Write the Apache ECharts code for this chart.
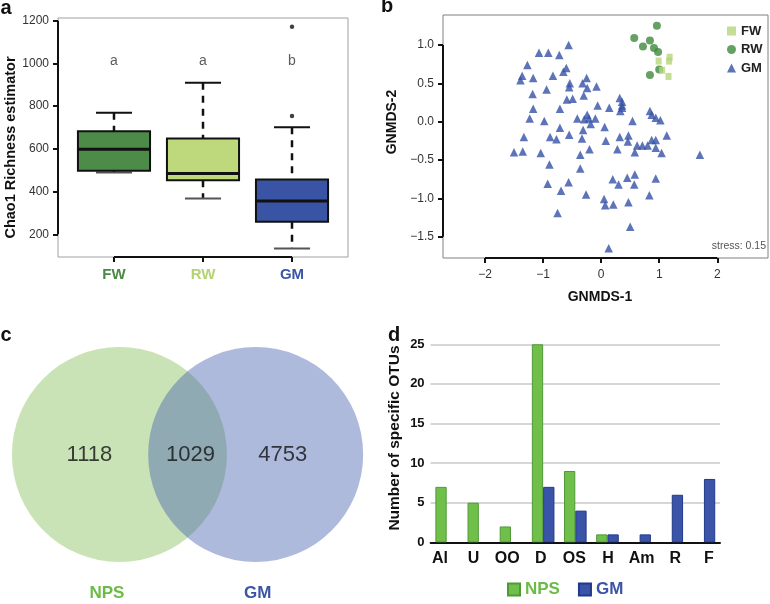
<!DOCTYPE html>
<html><head><meta charset="utf-8">
<script src="https://cdn.jsdelivr.net/npm/echarts@6/dist/echarts.min.js"></script>
<style>html,body{margin:0;padding:0;background:#fff}#c{width:770px;height:604px}</style>
</head><body><div id="c"></div>
<script>
// ---------- Panel a : Chao1 box plots ----------
const boxGroups = ['FW', 'RW', 'GM'];
const boxMin    = [489, 368, 134];
const boxQ1     = [498, 453, 259];
const boxMedian = [598, 485, 356];
const boxQ3     = [682, 649, 456];
const boxMax    = [769, 910, 701];
const boxOutlierGroup = [3, 3];
const boxOutlierValue = [754, 1172];
const sigLetters = ['a', 'a', 'b'];
const sigLevel = 1010;
const richnessTicks = [200, 400, 600, 800, 1000, 1200];

// ---------- Panel b : GNMDS ----------
const fwPoints = [[0.99,0.79],[1.18,0.84],[1.17,0.79],[1.05,0.67],[1.16,0.59]];
const rwPoints = [[0.96,1.25],[0.57,1.09],[0.84,1.06],[0.72,0.98],[0.91,0.96],[0.98,0.91],[0.84,0.61],[1.00,0.68]];
const gmPoints = [[-0.56,1.00],[-1.07,0.90],[-0.91,0.90],[-0.72,0.87],[-1.27,0.74],[-0.60,0.70],[-0.65,0.65],[-1.36,0.60],[-1.39,0.54],[-1.17,0.57],[-0.83,0.60],[-0.54,0.50],[-0.55,0.45],[-0.32,0.50],[-0.25,0.57],[-0.24,0.44],[-0.08,0.46],[-0.94,0.42],[-1.18,0.36],[-0.59,0.29],[-0.49,0.30],[-0.30,0.34],[-0.06,0.21],[-0.71,0.17],[-1.17,0.17],[-1.23,0.04],[-0.98,0.01],[-0.71,-0.08],[-0.41,0.04],[-0.24,0.09],[-0.21,0.04],[-0.18,-0.03],[-0.29,0.03],[-0.10,0.04],[0.06,-0.07],[0.14,0.18],[0.32,0.31],[0.36,0.26],[0.36,0.21],[0.36,0.18],[0.33,0.14],[0.54,0.01],[0.84,0.14],[0.87,0.09],[0.94,0.05],[1.02,0.02],[-0.88,-0.20],[-0.77,-0.23],[-0.55,-0.17],[-0.31,-0.11],[-0.33,-0.22],[-0.36,-0.43],[-0.20,-0.36],[0.08,-0.25],[0.32,-0.20],[0.47,-0.18],[0.46,-0.26],[0.28,-0.36],[0.58,-0.40],[0.62,-0.31],[0.71,-0.31],[0.80,-0.31],[0.87,-0.24],[0.94,-0.24],[1.13,-0.18],[1.04,-0.41],[0.94,-0.34],[1.70,-0.43],[-1.50,-0.40],[-1.35,-0.39],[-1.33,-0.20],[-1.04,-0.41],[-0.89,-0.56],[-0.36,-0.61],[-0.56,-0.79],[-0.92,-0.81],[-0.69,-0.90],[-0.26,-0.95],[-0.75,-1.19],[0.05,-1.01],[0.07,-1.09],[0.21,-1.08],[0.20,-0.75],[0.30,-0.82],[0.45,-0.73],[0.57,-0.82],[0.58,-0.69],[0.47,-1.05],[0.94,-0.74],[0.83,-0.96],[0.50,-1.37],[0.13,-1.65]];
const nmdsXTicks = [-2, -1, 0, 1, 2];
const nmdsYTicks = [-1.5, -1.0, -0.5, 0.0, 0.5, 1.0];
const stressValue = 0.15;

// ---------- Panel c : Venn ----------
const vennSets = ['NPS', 'GM'];
const vennOnlyFirst = 1118;
const vennShared = 1029;
const vennOnlySecond = 4753;

// ---------- Panel d : specific OTUs ----------
const otuCategories = ['Al', 'U', 'OO', 'D', 'OS', 'H', 'Am', 'R', 'F'];
const otuNPS = [7, 5, 2, 25, 9, 1, 0, 0, 0];
const otuGM  = [0, 0, 0, 7, 4, 1, 1, 6, 8];
const otuTicks = 5;

// ---------- styles ----------
const boxFill = ['#4c8b48', '#bed97b', '#3a54a5'];
const groupText = ['#4a8a44', '#b3d374', '#3b55a6'];
const FONT = 'Liberation Sans, Arial, sans-serif';
const aX = [0.371, 3.629], aY = [93.7, 1212.6];
const bX = [-2.723, 2.873], bY = [-1.778, 1.391];
const minus = s => String(s).replace('-', '\u2212');
const hideZero = arr => arr.map(v => (v === 0 ? '-' : v));

function renderBox(params, api) {
  const x = api.value(0);
  const pMin = api.coord([x, api.value(1)]);
  const pQ1 = api.coord([x, api.value(2)]);
  const pMd = api.coord([x, api.value(3)]);
  const pQ3 = api.coord([x, api.value(4)]);
  const pMx = api.coord([x, api.value(5)]);
  const bw = api.size([0.81, 0])[0];
  const cw = bw / 2;
  const cx = pMd[0];
  const dash = {stroke: '#111', lineWidth: 2.5, lineDash: [7, 6]};
  const solid = {stroke: '#111', lineWidth: 2};
  return {type: 'group', children: [
    {type: 'line', shape: {x1: cx, y1: pMx[1], x2: cx, y2: pQ3[1]}, style: dash},
    {type: 'line', shape: {x1: cx, y1: pQ1[1], x2: cx, y2: pMin[1]}, style: dash},
    {type: 'line', shape: {x1: cx - cw / 2, y1: pMx[1], x2: cx + cw / 2, y2: pMx[1]}, style: solid},
    {type: 'line', shape: {x1: cx - cw / 2, y1: pMin[1], x2: cx + cw / 2, y2: pMin[1]}, style: {stroke: '#555', lineWidth: 2}},
    {type: 'rect', shape: {x: cx - bw / 2, y: pQ3[1], width: bw, height: pQ1[1] - pQ3[1]},
      style: {fill: boxFill[params.dataIndex], stroke: '#111', lineWidth: 2}},
    {type: 'line', shape: {x1: cx - bw / 2, y1: pMd[1], x2: cx + bw / 2, y2: pMd[1]}, style: {stroke: '#111', lineWidth: 3}}
  ]};
}

const chart = echarts.init(document.getElementById('c'), null, {renderer: 'canvas'});

const axisLineSeries = (xi, yi, pts) => ({
  type: 'line', xAxisIndex: xi, yAxisIndex: yi, data: pts, symbol: 'none', silent: true,
  lineStyle: {color: '#111', width: 2}, z: 5, clip: false
});

const richGroups = {};
boxGroups.forEach((g, i) => { richGroups['g' + i] = {color: groupText[i], fontWeight: 'bold', fontSize: 15, fontFamily: FONT}; });

const option = {
  animation: false,
  backgroundColor: '#fff',
  textStyle: {fontFamily: FONT},
  grid: [
    {left: 58, top: 18, width: 290, height: 239, show: true, borderColor: '#a0a0a0', borderWidth: 1, outerBoundsMode: 'none'},
    {left: 443, top: 15, width: 325, height: 243, show: true, borderColor: '#808080', borderWidth: 1, outerBoundsMode: 'none'},
    {left: 0, top: 354.5, width: 380, height: 200, outerBoundsMode: 'none'},
    {left: 430.6, top: 344.3, width: 289.4, height: 198, outerBoundsMode: 'none'},
    {left: 423.2, top: 344.3, width: 302.4, height: 198, outerBoundsMode: 'none'}
  ],
  xAxis: [
    {gridIndex: 0, type: 'value', min: aX[0], max: aX[1],
      axisLine: {show: false, onZero: false}, splitLine: {show: false},
      axisTick: {show: true, customValues: [1, 2, 3], length: 5, lineStyle: {color: '#111', width: 2}},
      axisLabel: {customValues: [1, 2, 3], margin: 10, formatter: v => '{g' + (v - 1) + '|' + boxGroups[v - 1] + '}', rich: richGroups}},
    {gridIndex: 1, type: 'value', min: bX[0], max: bX[1],
      axisLine: {show: false, onZero: false}, splitLine: {show: false},
      axisTick: {show: true, customValues: nmdsXTicks, length: 5, lineStyle: {color: '#111', width: 2}},
      axisLabel: {customValues: nmdsXTicks, margin: 11, fontSize: 12, color: '#333', formatter: v => minus(v)}},
    {gridIndex: 2, type: 'value', min: -0.877, max: 1.913,
      axisLine: {show: false, onZero: false}, splitLine: {show: false}, axisTick: {show: false},
      axisLabel: {customValues: [0, 1], margin: 30,
        formatter: v => v === 0 ? '{n|' + vennSets[0] + '}' : '{m|' + vennSets[1] + '}',
        rich: {n: {color: '#6cbb47', fontWeight: 'bold', fontSize: 17, padding: [0, 25, 0, 0]},
               m: {color: '#3b55a6', fontWeight: 'bold', fontSize: 17, padding: [0, 0, 0, 4]}}}},
    {gridIndex: 3, type: 'category', data: otuCategories,
      axisLine: {show: true, onZero: false, lineStyle: {color: '#111', width: 2}}, axisTick: {show: false},
      axisLabel: {show: false}, splitLine: {show: false}},
    {gridIndex: 4, type: 'category', data: otuCategories,
      axisLine: {show: false, onZero: false}, axisTick: {show: false}, splitLine: {show: false},
      axisLabel: {interval: 0, margin: 8, fontSize: 16, fontWeight: 'bold', color: '#111'}}
  ],
  yAxis: [
    {gridIndex: 0, type: 'value', min: aY[0], max: aY[1],
      axisLine: {show: false, onZero: false}, splitLine: {show: false},
      axisTick: {show: true, customValues: richnessTicks, length: 5, lineStyle: {color: '#111', width: 2}},
      axisLabel: {customValues: richnessTicks, margin: 9, fontSize: 12, color: '#333', formatter: v => String(v)}},
    {gridIndex: 1, type: 'value', min: bY[0], max: bY[1],
      axisLine: {show: false, onZero: false}, splitLine: {show: false},
      axisTick: {show: true, customValues: nmdsYTicks, length: 5, lineStyle: {color: '#111', width: 2}},
      axisLabel: {customValues: nmdsYTicks, margin: 9, fontSize: 12, color: '#333', formatter: v => minus(v.toFixed(1))}},
    {gridIndex: 2, type: 'value', min: -1, max: 1, show: false, axisLine: {onZero: false}},
    {gridIndex: 3, type: 'value', min: 0, max: 25, interval: otuTicks,
      axisLine: {show: false, onZero: false}, axisTick: {show: false},
      splitLine: {show: true, lineStyle: {color: '#c8c8c8', width: 1.5}},
      axisLabel: {margin: 6, fontSize: 13, fontWeight: 'bold', color: '#111'}},
    {gridIndex: 4, type: 'value', min: 0, max: 25, show: false, axisLine: {onZero: false}}
  ],
  legend: [
    {data: ['FW', 'RW', 'GM'], orient: 'vertical', left: 727, top: 24.5, padding: 0, itemWidth: 9, itemHeight: 9, itemGap: 5.5,
      textStyle: {fontSize: 13, fontWeight: 'bold', color: '#222'}, selectedMode: false},
    {data: [{name: 'NPS', textStyle: {color: '#6cbb47'}}, {name: 'GM OTUs', textStyle: {color: '#3b55a6'}}],
      left: 507, top: 581, padding: 0, itemWidth: 12, itemHeight: 12, itemGap: 18, icon: 'rect',
      formatter: n => n.split(' ')[0],
      textStyle: {fontSize: 17, fontWeight: 'bold'}, selectedMode: false}
  ],
  series: [
    // panel a
    {type: 'custom', name: 'Chao1', xAxisIndex: 0, yAxisIndex: 0, renderItem: renderBox, clip: false,
      encode: {x: 0, y: [1, 2, 3, 4, 5]},
      data: boxGroups.map((g, i) => [i + 1, boxMin[i], boxQ1[i], boxMedian[i], boxQ3[i], boxMax[i]])},
    {type: 'scatter', name: 'outliers', xAxisIndex: 0, yAxisIndex: 0, symbolSize: 4.5,
      itemStyle: {color: '#111'}, data: boxOutlierGroup.map((g, i) => [g, boxOutlierValue[i]])},
    {type: 'scatter', name: 'letters', xAxisIndex: 0, yAxisIndex: 0, symbolSize: 1, itemStyle: {color: 'rgba(0,0,0,0)'},
      label: {show: true, position: 'inside', formatter: p => sigLetters[p.dataIndex], fontSize: 14, color: '#333'},
      data: boxGroups.map((g, i) => [i + 1, sigLevel])},
    axisLineSeries(0, 0, [[aX[0], richnessTicks[0]], [aX[0], richnessTicks[richnessTicks.length - 1]]]),
    axisLineSeries(0, 0, [[1, aY[0]], [boxGroups.length, aY[0]]]),
    // panel b
    {type: 'scatter', name: 'GM', xAxisIndex: 1, yAxisIndex: 1, symbol: 'triangle', symbolSize: 8.5,
      itemStyle: {color: '#3651a6'}, data: gmPoints},
    {type: 'scatter', name: 'RW', xAxisIndex: 1, yAxisIndex: 1, symbol: 'circle', symbolSize: 8,
      itemStyle: {color: '#3f8a3d'}, data: rwPoints},
    {type: 'scatter', name: 'FW', xAxisIndex: 1, yAxisIndex: 1, symbol: 'rect', symbolSize: [6, 7],
      itemStyle: {color: '#b5d67a'}, data: fwPoints},
    axisLineSeries(1, 1, [[bX[0], nmdsYTicks[0]], [bX[0], nmdsYTicks[nmdsYTicks.length - 1]]]),
    axisLineSeries(1, 1, [[nmdsXTicks[0], bY[0]], [nmdsXTicks[nmdsXTicks.length - 1], bY[0]]]),
    // panel c
    {type: 'scatter', name: 'venn', xAxisIndex: 2, yAxisIndex: 2, symbol: 'circle', symbolSize: 215, silent: true,
      label: {show: true, position: 'inside', fontSize: 22, color: '#111'},
      data: [
        {value: [0, 0], itemStyle: {color: '#bcdca4'}, label: {formatter: String(vennOnlyFirst), offset: [-30, 0]}},
        {value: [1, 0], itemStyle: {color: 'rgba(68,96,174,0.54)'}, label: {formatter: String(vennOnlySecond), offset: [27, 0]}},
        {value: [0.5, 0], symbolSize: 1, itemStyle: {color: 'rgba(0,0,0,0)'}, label: {formatter: String(vennShared), offset: [3, 0]}}
      ]},
    // panel d
    {type: 'bar', name: 'NPS', xAxisIndex: 3, yAxisIndex: 3, data: hideZero(otuNPS), barWidth: 11.3, barGap: '0%',
      itemStyle: {color: '#71bf4b', borderColor: '#4f9a36', borderWidth: 1}},
    {type: 'bar', name: 'GM OTUs', xAxisIndex: 3, yAxisIndex: 3, data: hideZero(otuGM), barWidth: 11.3, barGap: '0%',
      itemStyle: {color: '#3a55a8', borderColor: '#22388a', borderWidth: 1}}
  ],
  graphic: [
    {type: 'text', x: 6, y: 8, style: {text: 'a', font: 'bold 20px ' + FONT, textAlign: 'center', textVerticalAlign: 'middle', fill: '#111'}},
    {type: 'text', x: 387, y: 6, style: {text: 'b', font: 'bold 20px ' + FONT, textAlign: 'center', textVerticalAlign: 'middle', fill: '#111'}},
    {type: 'text', x: 6, y: 335, style: {text: 'c', font: 'bold 20px ' + FONT, textAlign: 'center', textVerticalAlign: 'middle', fill: '#111'}},
    {type: 'text', x: 394, y: 335, style: {text: 'd', font: 'bold 20px ' + FONT, textAlign: 'center', textVerticalAlign: 'middle', fill: '#111'}},
    {type: 'text', x: 11, y: 147.5, rotation: Math.PI / 2, style: {text: 'Chao1 Richness estimator', font: 'bold 14.5px ' + FONT, textAlign: 'center', textVerticalAlign: 'middle', fill: '#111'}},
    {type: 'text', x: 392, y: 122, rotation: Math.PI / 2, style: {text: 'GNMDS-2', font: 'bold 14px ' + FONT, textAlign: 'center', textVerticalAlign: 'middle', fill: '#111'}},
    {type: 'text', x: 600, y: 297, style: {text: 'GNMDS-1', font: 'bold 14px ' + FONT, textAlign: 'center', textVerticalAlign: 'middle', fill: '#111'}},
    {type: 'text', x: 766, y: 246, style: {text: 'stress: ' + stressValue.toFixed(2), font: '10.5px ' + FONT, textAlign: 'right', textVerticalAlign: 'middle', fill: '#555'}},
    {type: 'text', x: 395, y: 438, rotation: Math.PI / 2, style: {text: 'Number of specific OTUs', font: 'bold 15.5px ' + FONT, textAlign: 'center', textVerticalAlign: 'middle', fill: '#111'}}
  ]
};
chart.setOption(option);
</script></body></html>
